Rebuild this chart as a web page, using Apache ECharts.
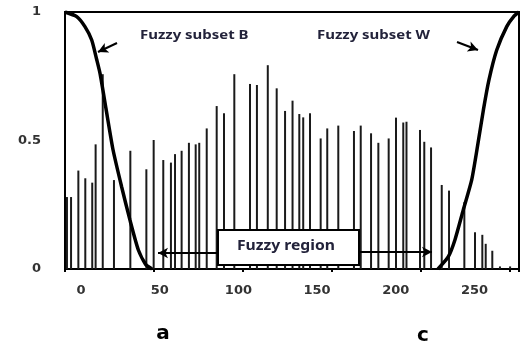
<!DOCTYPE html>
<html>
<head>
<meta charset="utf-8">
<title>Fuzzy subsets</title>
<script src="https://cdn.jsdelivr.net/npm/echarts@6/dist/echarts.min.js"></script>
<style>
  html, body { margin: 0; padding: 0; background: #fff; }
  #main { width: 522px; height: 345px; }
</style>
</head>
<body>
<div id="main"></div>
<script>
// histogram lines: grey level / normalised count
var histX = [1.1, 3.4, 7.5, 11.4, 15.3, 17.2, 21.2, 27.5, 36.7, 45.7, 49.8, 55.2, 59.5, 61.8,
  65.5, 69.6, 73.4, 75.4, 79.6, 85.2, 89.3, 95.1, 103.9, 107.8, 113.9, 118.9, 123.6, 127.8,
  131.6, 133.8, 137.6, 143.6, 147.3, 153.5, 162.3, 166.1, 171.9, 176, 181.8, 185.9, 190, 191.8,
  199.4, 201.8, 205.6, 211.6, 215.7, 224.3, 230.3, 234.4, 236.3, 240, 244.3, 250];
var histY = [0.28, 0.28, 0.383, 0.353, 0.336, 0.485, 0.758, 0.346, 0.46, 0.388, 0.502, 0.424, 0.414, 0.447,
  0.46, 0.491, 0.485, 0.491, 0.547, 0.634, 0.606, 0.758, 0.72, 0.716, 0.793, 0.703, 0.615, 0.655,
  0.603, 0.59, 0.606, 0.508, 0.547, 0.558, 0.537, 0.558, 0.528, 0.491, 0.508, 0.589, 0.57, 0.573,
  0.541, 0.495, 0.473, 0.327, 0.305, 0.26, 0.143, 0.133, 0.098, 0.071, 0.01, 0.01];

// fuzzy subset B (dark)
var bCurveX = [0, 6.6, 11.2, 15, 17.8, 19.7, 23, 27, 31.8, 36.5, 41.2, 45.5, 48.9];
var bCurveY = [1, 0.982, 0.943, 0.891, 0.815, 0.76, 0.625, 0.463, 0.32, 0.19, 0.074, 0.016, 0];

// fuzzy subset W (bright)
var wCurveX = [209.5, 215.3, 219, 223.7, 228.4, 231.4, 235, 238.1, 242.5, 248.1, 252.2, 255];
var wCurveY = [0, 0.048, 0.113, 0.23, 0.346, 0.465, 0.619, 0.735, 0.852, 0.943, 0.984, 1];

var xTickLabels = [0, 50, 100, 150, 200, 250];
var yTickLabels = [0, 0.5, 1];

function pairs(xs, ys) {
  var out = [];
  for (var i = 0; i < xs.length; i++) {
    out.push([xs[i], ys[i]]);
  }
  return out;
}

var chart = echarts.init(document.getElementById('main'));
var labelFont = { fontFamily: 'DejaVu Sans', fontSize: 13, fontWeight: 'bold', color: '#333' };
var noteFont = 'bold 13px "Noto Sans"';

var option = {
  animation: false,
  grid: {
    left: 65, right: 3, top: 12, bottom: 76,
    show: true, borderColor: '#000', borderWidth: 2
  },
  xAxis: [
    {
      // data axis, small ticks hanging from the top border
      type: 'value', min: 0, max: 255, interval: 50, position: 'top',
      axisLine: { show: false },
      axisTick: { show: true, inside: true, length: 3, lineStyle: { color: '#000', width: 2 } },
      axisLabel: { show: false },
      splitLine: { show: false }
    },
    {
      // label axis under the plot
      type: 'value', min: -10.2, max: 278.3, position: 'bottom',
      axisLine: { show: false },
      axisTick: { show: false },
      splitLine: { show: false },
      axisLabel: Object.assign({ customValues: xTickLabels, margin: 15 }, labelFont)
    }
  ],
  yAxis: {
    type: 'value', min: 0, max: 1,
    axisLine: { show: false },
    axisTick: { show: false },
    splitLine: { show: false },
    axisLabel: Object.assign({ customValues: yTickLabels, margin: 24 }, labelFont)
  },
  series: [
    {
      type: 'bar',
      xAxisIndex: 0,
      barWidth: 2,
      itemStyle: { color: '#1a1a1a' },
      data: pairs(histX, histY),
      markLine: {
        silent: true,
        symbol: ['none', 'arrow'],
        symbolSize: [8, 10],
        label: { show: false },
        lineStyle: { color: '#000', width: 2, type: 'solid' },
        data: [
          [{ x: 117, y: 43 }, { x: 98, y: 52 }],
          [{ x: 457, y: 42 }, { x: 478, y: 50 }],
          [{ x: 218, y: 253 }, { x: 158, y: 253 }],
          [{ x: 359, y: 252 }, { x: 432, y: 252 }]
        ]
      }
    },
    {
      type: 'line', xAxisIndex: 0, smooth: 0.2, showSymbol: false,
      lineStyle: { color: '#000', width: 3.5 },
      data: pairs(bCurveX, bCurveY), z: 5
    },
    {
      type: 'line', xAxisIndex: 0, smooth: 0.2, showSymbol: false,
      lineStyle: { color: '#000', width: 3.5 },
      data: pairs(wCurveX, wCurveY), z: 5
    }
  ],
  graphic: [
    {
      type: 'text', x: 140, y: 35, scaleX: 1.15, z: 100,
      style: { text: 'Fuzzy subset B', font: noteFont, fill: '#22223a', verticalAlign: 'middle' }
    },
    {
      type: 'text', x: 317, y: 35, scaleX: 1.15, z: 100,
      style: { text: 'Fuzzy subset W', font: noteFont, fill: '#22223a', verticalAlign: 'middle' }
    },
    {
      type: 'rect', z: 100,
      shape: { x: 218, y: 230, width: 141, height: 35 },
      style: { fill: '#fff', stroke: '#000', lineWidth: 2 }
    },
    {
      type: 'text', z: 101, x: 237, y: 246, scaleX: 1.12,
      style: { text: 'Fuzzy region', font: 'bold 14px "Noto Sans"', fill: '#22223a', verticalAlign: 'middle' }
    },
    {
      type: 'text', z: 100, x: 163, y: 334,
      style: { text: 'a', font: 'bold 20px "DejaVu Sans"', fill: '#000', align: 'center', verticalAlign: 'middle' }
    },
    {
      type: 'text', z: 100, x: 423, y: 336,
      style: { text: 'c', font: 'bold 20px "DejaVu Sans"', fill: '#000', align: 'center', verticalAlign: 'middle' }
    }
  ]
};

option && chart.setOption(option);
</script>
</body>
</html>
